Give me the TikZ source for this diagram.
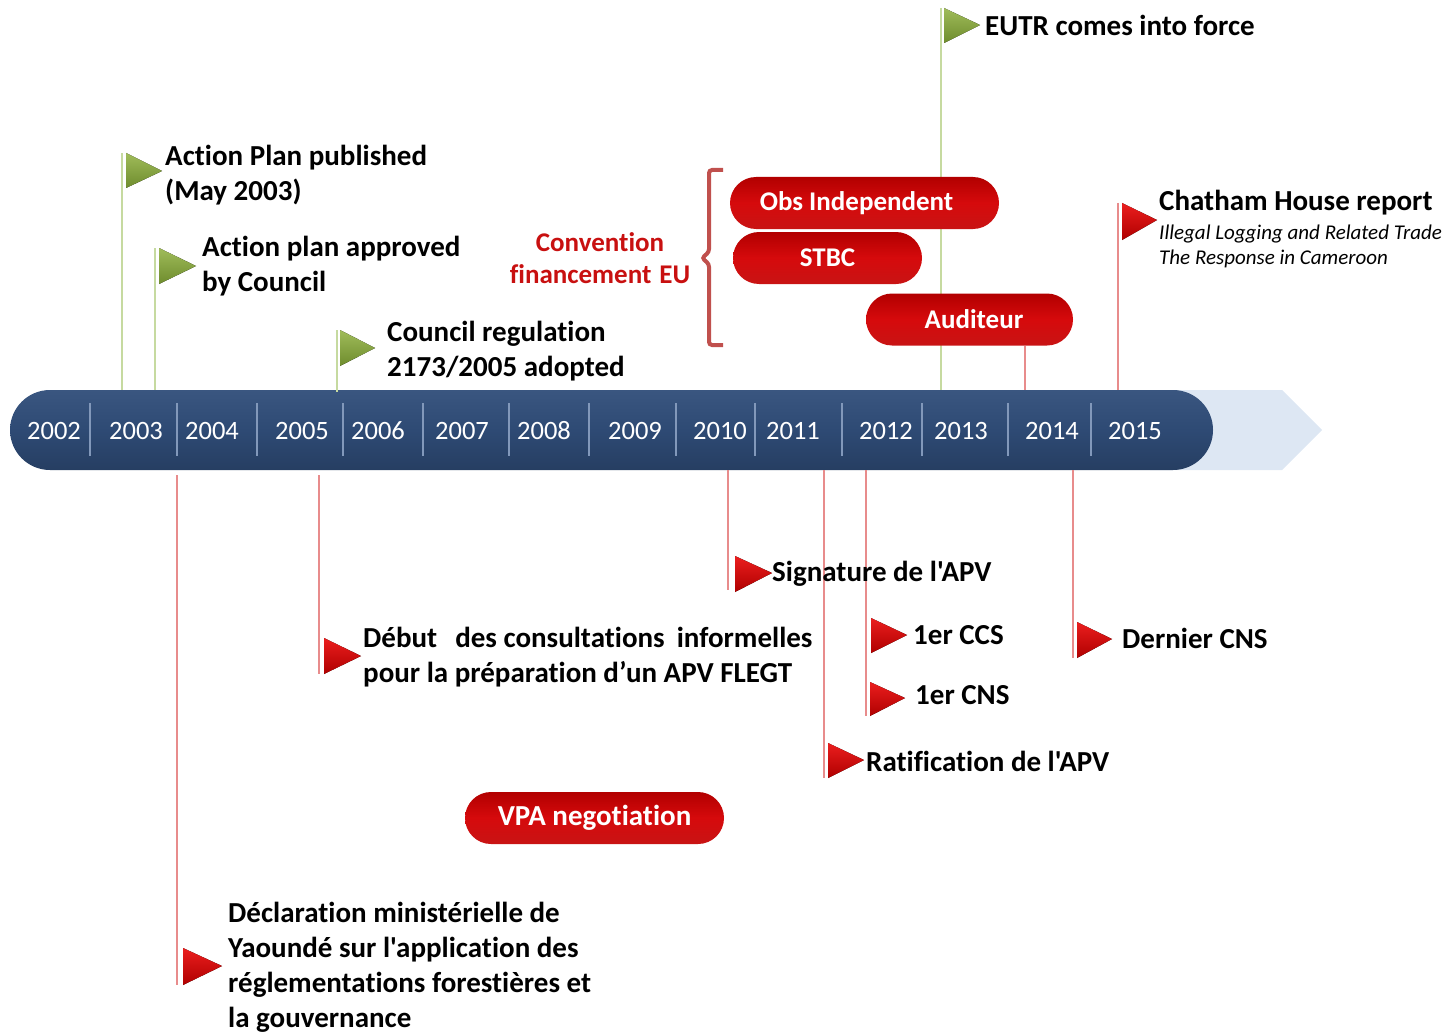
\documentclass[tikz,border=0pt]{standalone}
\usepackage{fontspec}
\setmainfont{Carlito}[Ligatures={TeXOff,NoCommon}]
\definecolor{barblue}{RGB}{46,74,116}
\definecolor{bartop}{RGB}{58,86,128}
\definecolor{barbot}{RGB}{38,62,98}
\definecolor{lightarrow}{RGB}{221,231,243}
\definecolor{sepc}{RGB}{130,152,186}
\definecolor{gpolec}{RGB}{198,218,160}
\definecolor{rpolec}{RGB}{232,140,140}
\definecolor{gflagtop}{RGB}{160,188,90}
\definecolor{gflagbot}{RGB}{110,140,45}
\definecolor{rflagtop}{RGB}{235,30,30}
\definecolor{rflagbot}{RGB}{175,0,0}
\definecolor{pilltop}{RGB}{178,0,0}
\definecolor{pillmid}{RGB}{214,10,12}
\definecolor{pillbot}{RGB}{200,20,20}
\definecolor{bracketc}{RGB}{192,80,77}
\definecolor{convred}{RGB}{200,16,16}
\begin{document}
\begin{tikzpicture}[x=1pt,y=-1pt,
  lbl/.style={font=\bfseries\fontsize{29}{35}\selectfont, align=left, inner sep=0pt, anchor=west},
  yearlbl/.style={font=\fontsize{26.5}{30}\selectfont, text=white, inner sep=0pt},
  pill/.style={rounded corners=26pt, top color=pilltop, bottom color=pillbot, middle color=pillmid,
    text=white, font=\bfseries\fontsize{27}{30}\selectfont, minimum height=52pt, inner sep=0pt},
  gpole/.style={draw=gpolec, line width=1.3pt},
  rpole/.style={draw=rpolec, line width=1.3pt},
  gflag/.style={top color=gflagtop, bottom color=gflagbot},
  rflag/.style={top color=rflagtop, bottom color=rflagbot},
  sepline/.style={draw=sepc, line width=1.5pt}
]
\useasboundingbox (0,0) rectangle (1445,1035);

% ---------- timeline bar ----------
\fill[lightarrow] (1150,390) -- (1282,390) -- (1322,430) -- (1282,470) -- (1150,470) -- cycle;
\shade[rounded corners=40pt, top color=bartop, bottom color=barbot, middle color=barblue]
  (10,390) rectangle (1213,470);
\foreach \x in {90,177,257,343,423,509,589,676,755,842,922,1008,1091}
  \draw[sepline] (\x,403) -- (\x,456);
\foreach \x/\y in {54/2002,136/2003,212/2004,302/2005,378/2006,462/2007,544/2008,635/2009,720/2010,793/2011,886/2012,961/2013,1052/2014,1135/2015}
  \node[yearlbl] (y\y) at (\x,431) {\y};

% ---------- poles ----------
\coordinate (pA) at (122,153);  \coordinate (pAb) at (122,390);
\coordinate (pB) at (155,248);  \coordinate (pBb) at (155,390);
\coordinate (pC) at (337,330);  \coordinate (pCb) at (337,392);
\coordinate (pE) at (941,8);    \coordinate (pEb) at (941,390);
\coordinate (pH) at (1118,203); \coordinate (pHb) at (1118,390);
\coordinate (pU) at (1025,346); \coordinate (pUb) at (1025,390);
\draw[gpole] (pA) -- (pAb);
\draw[gpole] (pB) -- (pBb);
\draw[gpole] (pC) -- (pCb);
\draw[gpole] (pE) -- (pEb);
\draw[rpole] (pH) -- (pHb);
\draw[rpole] (pU) -- (pUb);

\coordinate (qD) at (177,475);  \coordinate (qDb) at (177,985);
\coordinate (qF) at (319,475);  \coordinate (qFb) at (319,674);
\coordinate (qS) at (728,470);  \coordinate (qSb) at (728,590);
\coordinate (qR) at (824,470);  \coordinate (qRb) at (824,778);
\coordinate (qC) at (866,470);  \coordinate (qCb) at (866,716);
\coordinate (qN) at (1073,470); \coordinate (qNb) at (1073,658);
\draw[rpole] (qD) -- (qDb);
\draw[rpole] (qF) -- (qFb);
\draw[rpole] (qS) -- (qSb);
\draw[rpole] (qR) -- (qRb);
\draw[rpole] (qC) -- (qCb);
\draw[rpole] (qN) -- (qNb);

% ---------- flags ----------
\fill[gflag] (126,153) -- ++(36,18) -- ++(-36,17) -- cycle;
\fill[gflag] (159,248) -- ++(37,18) -- ++(-37,18) -- cycle;
\fill[gflag] (340,330) -- ++(35,18) -- ++(-35,18) -- cycle;
\fill[gflag] (944,8) -- ++(36,17) -- ++(-36,18) -- cycle;
\fill[rflag] (1122,203) -- ++(35,17) -- ++(-35,20) -- cycle;
\fill[rflag] (183,948) -- ++(39,18) -- ++(-39,19) -- cycle;
\fill[rflag] (324,638) -- ++(37,18) -- ++(-37,18) -- cycle;
\fill[rflag] (735,556) -- ++(37,17) -- ++(-37,19) -- cycle;
\fill[rflag] (828,743) -- ++(36,17) -- ++(-36,18) -- cycle;
\fill[rflag] (871,618) -- ++(36,17) -- ++(-36,18) -- cycle;
\fill[rflag] (870,682) -- ++(35,16) -- ++(-35,18) -- cycle;
\fill[rflag] (1077,622) -- ++(35,17) -- ++(-35,19) -- cycle;

% ---------- labels ----------
\node[lbl] (tA) at (165,175) {Action Plan published\\(May 2003)};
\node[lbl] (tB) at (202,266) {Action plan approved\\by Council};
\node[lbl] (tC) at (387,351) {Council regulation\\2173/2005 adopted};
\node[lbl] (tE) at (985,25) {EUTR comes into force};
\node[font=\bfseries\fontsize{29}{34}\selectfont, anchor=base west, inner sep=0pt] (tH1) at (1159,211) {Chatham House report};
\node[font=\itshape\fontsize{21}{25}\selectfont, anchor=base west, inner sep=0pt] (tH2) at (1159,239) {Illegal Logging and Related Trade};
\node[font=\itshape\fontsize{21}{25}\selectfont, anchor=base west, inner sep=0pt] (tH3) at (1159,264) {The Response in Cameroon};

\node[lbl] (tD) at (228,967) {Déclaration ministérielle de\\Yaoundé sur l'application des\\réglementations forestières et\\la gouvernance};
\node[lbl] (tF) at (363,657) {Début\hspace{18pt}des consultations\hspace{12pt}informelles\\pour la préparation d’un APV FLEGT};
\node[lbl] (tS) at (772,574) {Signature de l'APV};
\node[lbl] (tR) at (866,761) {Ratification de l'APV};
\node[lbl] (tC1) at (913,635) {1er CCS};
\node[lbl] (tC2) at (915,695) {1er CNS};
\node[lbl] (tN) at (1122,638) {Dernier CNS};

% ---------- bracket & convention ----------
\draw[bracketc, line width=4pt, rounded corners=3pt]
  (723,170) -- (709,170) -- (709,252) -- (702,258) -- (709,264) -- (709,345) -- (723,345);
\node[font=\bfseries\fontsize{27}{32}\selectfont, text=convred, align=center, inner sep=0pt] (conv)
  at (600,258) {Convention\\financement\hspace{8pt}EU};

% ---------- pills ----------
\node[pill, minimum width=269pt] (obs) at (864.5,203) {Obs Independent\kern16pt};
\node[pill, minimum width=189pt] (stbc) at (827.5,258) {STBC};
\node[pill, minimum width=207pt] (aud) at (969.5,319.5) {\hspace{9pt}Auditeur};
\node[pill, minimum width=259pt, font=\bfseries\fontsize{29}{32}\selectfont] (vpa) at (594.5,818) {VPA negotiation};
\end{tikzpicture}
\end{document}
